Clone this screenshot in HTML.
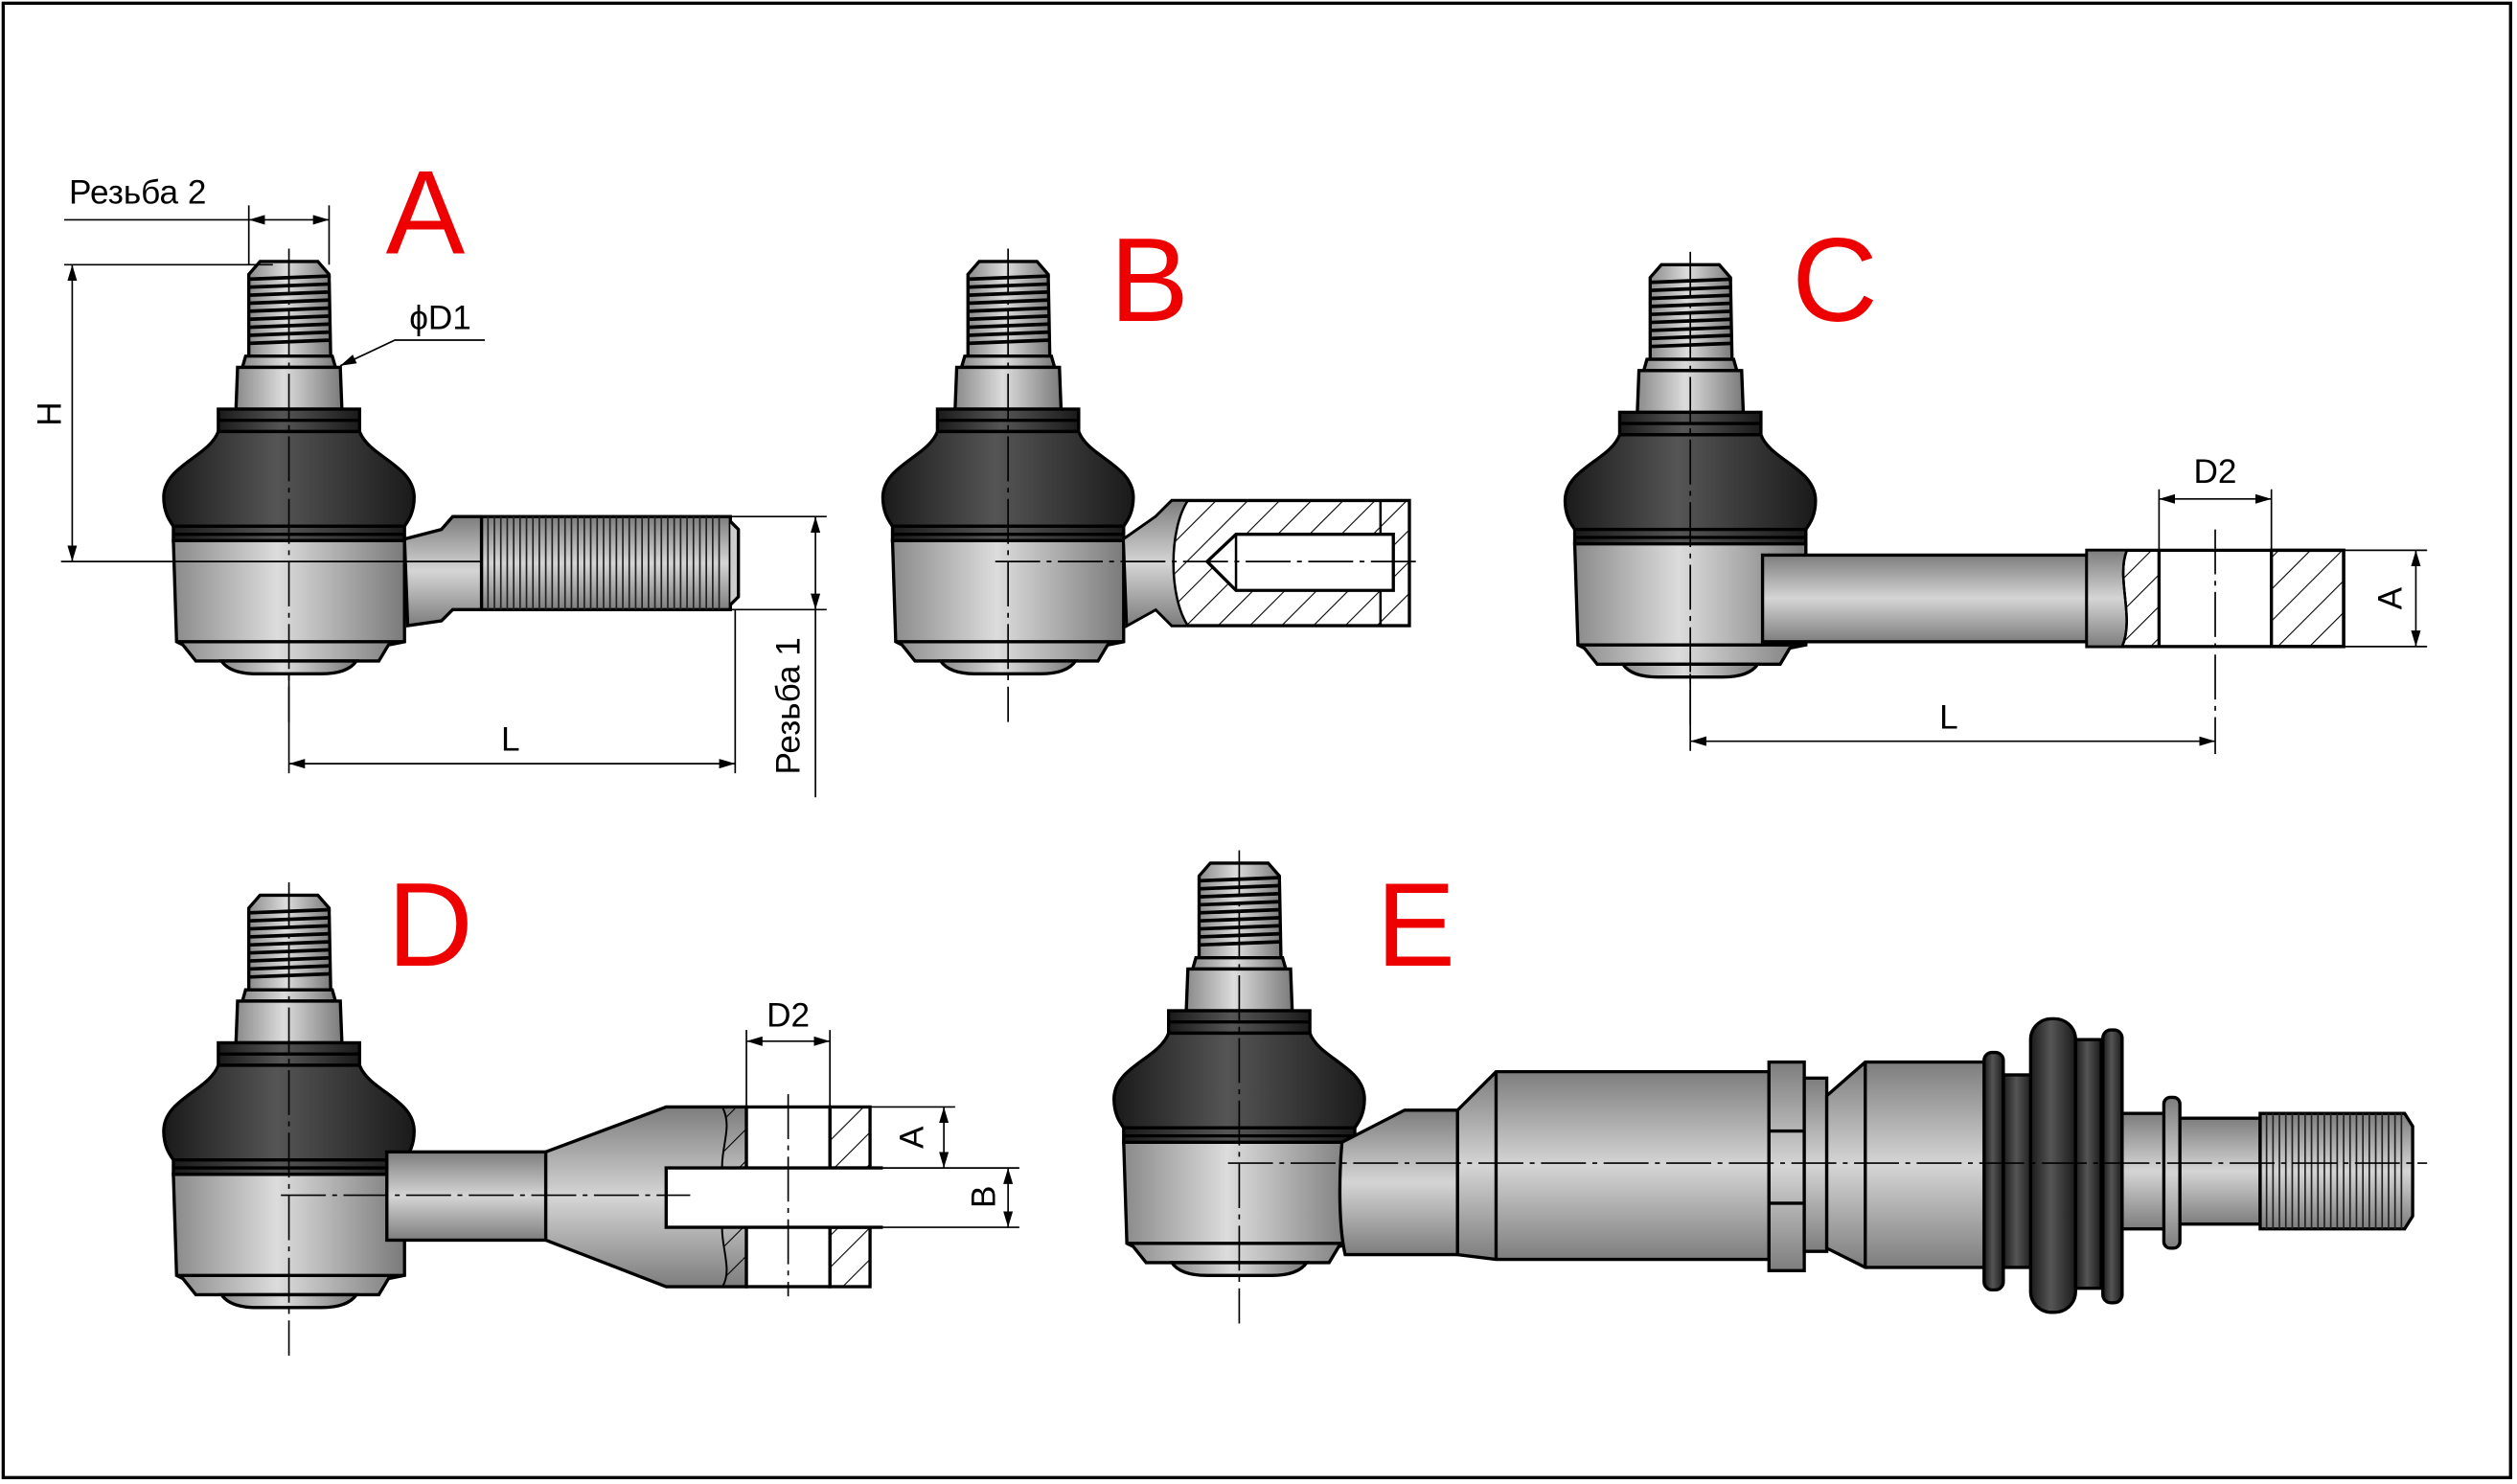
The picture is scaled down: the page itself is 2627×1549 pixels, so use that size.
<!DOCTYPE html>
<html><head><meta charset="utf-8"><style>
html,body{margin:0;padding:0;background:#fff}
svg{display:block}
text{font-family:"Liberation Sans",sans-serif}
</style></head><body>
<svg width="2627" height="1549" viewBox="0 0 1568 925" preserveAspectRatio="none" xmlns="http://www.w3.org/2000/svg">
<defs>
<linearGradient id="gh" x1="0" x2="1" y1="0" y2="0"><stop offset="0" stop-color="#8a8a8a"/><stop offset="0.45" stop-color="#dcdcdc"/><stop offset="1" stop-color="#7a7a7a"/></linearGradient>
<linearGradient id="gv" x1="0" x2="0" y1="0" y2="1"><stop offset="0" stop-color="#7d7d7d"/><stop offset="0.5" stop-color="#d5d5d5"/><stop offset="1" stop-color="#7d7d7d"/></linearGradient>
<linearGradient id="gd" x1="0" x2="1" y1="0" y2="0"><stop offset="0" stop-color="#1a1a1a"/><stop offset="0.45" stop-color="#555"/><stop offset="1" stop-color="#1a1a1a"/></linearGradient>
<pattern id="hatch" width="14" height="14" patternUnits="userSpaceOnUse" patternTransform="rotate(45)"><line x1="0" y1="0" x2="0" y2="14" stroke="#000" stroke-width="1.3"/></pattern>
<marker id="ar" viewBox="0 0 10 6" refX="10" refY="3" markerWidth="10" markerHeight="6" orient="auto-start-reverse" markerUnits="userSpaceOnUse"><path d="M0,0L10,3L0,6z" fill="#000"/></marker>
<g id="joint" stroke="#000" stroke-width="2">
  <path d="M-18,-187 L18,-187 L25,-179 L26,-128 L-25,-128 L-25,-179 Z" fill="url(#gh)"/>
  <g stroke-width="2.2">
    <line x1="-25" y1="-176" x2="26" y2="-178"/><line x1="-25" y1="-171" x2="26" y2="-173"/><line x1="-25" y1="-166" x2="26" y2="-168"/>
    <line x1="-25" y1="-161" x2="26" y2="-163"/><line x1="-25" y1="-156" x2="26" y2="-158"/><line x1="-25" y1="-151" x2="26" y2="-153"/><line x1="-25" y1="-146" x2="26" y2="-148"/><line x1="-25" y1="-141" x2="26" y2="-143"/><line x1="-25" y1="-136" x2="26" y2="-138"/>
  </g>
  <path d="M-27,-128 L27,-128 L29,-121 L-29,-121 Z" fill="url(#gh)"/>
  <path d="M-32,-121 L32,-121 L33,-95 L-33,-95 Z" fill="url(#gh)"/>
  <rect x="-44" y="-95" width="88" height="14" fill="url(#gd)"/>
  <line x1="-44" y1="-88" x2="44" y2="-88"/>
  <path d="M-44,-81 C-50,-65 -78,-60 -78,-40 C-78,-30 -74,-25 -72,-22 L72,-22 C74,-25 78,-30 78,-40 C78,-60 50,-65 44,-81 Z" fill="url(#gd)"/>
  <rect x="-72" y="-22" width="144" height="9" fill="url(#gd)"/>
  <line x1="-72" y1="-17" x2="72" y2="-17"/>
  <path d="M-72,-13 L72,-13 L72,50 L62,52 L56,62 L-58,62 L-66,52 L-70,50 Z" fill="url(#gh)"/>
  <line x1="-70" y1="50" x2="72" y2="50"/>
  <path d="M-42,62 L42,62 C38,68 30,70 20,70 L-20,70 C-30,70 -38,68 -42,62 Z" fill="url(#gh)"/>
  <line x1="0" y1="-195" x2="0" y2="100" stroke-width="1" stroke-dasharray="28,4,3,4"/>
</g>
</defs>
<rect x="2" y="2" width="1562" height="919" fill="#fff" stroke="#000" stroke-width="2"/>

<!-- A -->
<use href="#joint" x="180" y="350"/>
<path d="M252,336 L275,330 L282,322 L300,322 L300,380 L282,380 L275,387 L254,390 Z" fill="url(#gv)" stroke="#000" stroke-width="2"/>
<rect x="300" y="322" width="155" height="58" fill="url(#gv)" stroke="#000" stroke-width="2"/>
<g stroke="#222" stroke-width="1">
<path d="M304,322V380M308,322V380M312,322V380M316,322V380M320,322V380M324,322V380M328,322V380M332,322V380M336,322V380M340,322V380M344,322V380M348,322V380M352,322V380M356,322V380M360,322V380M364,322V380M368,322V380M372,322V380M376,322V380M380,322V380M384,322V380M388,322V380M392,322V380M396,322V380M400,322V380M404,322V380M408,322V380M412,322V380M416,322V380M420,322V380M424,322V380M428,322V380M432,322V380M436,322V380M440,322V380M444,322V380M448,322V380"/></g>
<path d="M455,325 L460,330 L460,372 L455,377" fill="#ccc" stroke="#000" stroke-width="2"/>
<g stroke="#000" stroke-width="1" fill="none">
<line x1="38" y1="350" x2="300" y2="350"/>
<line x1="40" y1="165" x2="170" y2="165"/>
<line x1="45" y1="165" x2="45" y2="350" marker-start="url(#ar)" marker-end="url(#ar)"/>
<line x1="40" y1="137" x2="155" y2="137"/>
<line x1="155" y1="128" x2="155" y2="165"/><line x1="205" y1="128" x2="205" y2="165"/>
<line x1="155" y1="137" x2="205" y2="137" marker-start="url(#ar)" marker-end="url(#ar)"/>
<path d="M302,212 L246,212 L212,228" marker-end="url(#ar)"/>
<line x1="180" y1="420" x2="180" y2="482"/>
<line x1="180" y1="476" x2="458" y2="476" marker-start="url(#ar)" marker-end="url(#ar)"/>
<line x1="458" y1="380" x2="458" y2="482"/>
<line x1="455" y1="322" x2="515" y2="322"/><line x1="455" y1="380" x2="515" y2="380"/>
<line x1="508" y1="322" x2="508" y2="380" marker-start="url(#ar)" marker-end="url(#ar)"/>
<line x1="508" y1="380" x2="508" y2="497"/>
</g>
<text x="43" y="127" font-size="21">Резьба 2</text>
<text x="255" y="205" font-size="21">ϕD1</text>
<text x="38" y="258" font-size="21" transform="rotate(-90 38 258)" text-anchor="middle">H</text>
<text x="318" y="468" font-size="21" text-anchor="middle">L</text>
<text x="498" y="440" font-size="21" transform="rotate(-90 498 440)" text-anchor="middle">Резьба 1</text>
<text x="265" y="158" font-size="74" fill="#e00" text-anchor="middle">A</text>

<!-- B -->
<use href="#joint" x="628" y="350"/>
<path d="M700,336 L720,322 L730,312 L878,312 L878,390 L730,390 L720,380 L702,390 Z" fill="url(#hatch)" stroke="#000" stroke-width="2"/>
<path d="M700,336 L720,322 L730,312 L740,312 C728,330 728,372 740,390 L730,390 L720,380 L702,390 Z" fill="url(#gv)" stroke="#000" stroke-width="1.5"/>
<path d="M770,333 L868,333 L868,368 L770,368 L752,350 Z" fill="#fff" stroke="#000" stroke-width="2"/>
<line x1="770" y1="333" x2="770" y2="368" stroke="#000" stroke-width="1.5"/>
<line x1="860" y1="312" x2="860" y2="333" stroke="#000" stroke-width="1.5"/><line x1="860" y1="368" x2="860" y2="390" stroke="#000" stroke-width="1.5"/>
<line x1="620" y1="350" x2="885" y2="350" stroke="#000" stroke-width="1" stroke-dasharray="28,4,3,4"/>
<text x="716" y="200" font-size="74" fill="#e00" text-anchor="middle">B</text>

<!-- C -->
<use href="#joint" x="1053" y="352"/>
<rect x="1098" y="346" width="202" height="54" fill="url(#gv)" stroke="#000" stroke-width="2"/>
<rect x="1300" y="343" width="160" height="60" fill="#fff" stroke="#000" stroke-width="2"/>
<path d="M1300,343 L1325,343 C1318,360 1330,385 1322,403 L1300,403 Z" fill="url(#gv)" stroke="#000" stroke-width="1.5"/>
<path d="M1325,343 L1345,343 L1345,403 L1322,403 C1330,385 1318,360 1325,343 Z" fill="url(#hatch)" stroke="#000" stroke-width="1.5"/>
<rect x="1415" y="343" width="45" height="60" fill="url(#hatch)" stroke="#000" stroke-width="2"/>
<line x1="1345" y1="343" x2="1345" y2="403" stroke="#000" stroke-width="2"/>
<g stroke="#000" stroke-width="1" fill="none">
<line x1="1380" y1="330" x2="1380" y2="470" stroke-dasharray="28,4,3,4"/>
<line x1="1345" y1="305" x2="1345" y2="343"/><line x1="1415" y1="305" x2="1415" y2="343"/>
<line x1="1345" y1="311" x2="1415" y2="311" marker-start="url(#ar)" marker-end="url(#ar)"/>
<line x1="1460" y1="343" x2="1512" y2="343"/><line x1="1460" y1="403" x2="1512" y2="403"/>
<line x1="1505" y1="343" x2="1505" y2="403" marker-start="url(#ar)" marker-end="url(#ar)"/>
<line x1="1053" y1="420" x2="1053" y2="468"/>
<line x1="1053" y1="462" x2="1380" y2="462" marker-start="url(#ar)" marker-end="url(#ar)"/>
</g>
<text x="1380" y="301" font-size="21" text-anchor="middle">D2</text>
<text x="1496" y="373" font-size="21" transform="rotate(-90 1496 373)" text-anchor="middle">A</text>
<text x="1214" y="454" font-size="21" text-anchor="middle">L</text>
<text x="1143" y="200" font-size="74" fill="#e00" text-anchor="middle">C</text>

<!-- D -->
<use href="#joint" x="180" y="745"/>
<rect x="241" y="718" width="99" height="55" fill="url(#gv)" stroke="#000" stroke-width="2"/>
<path d="M340,718 L415,690 L465,690 L465,802 L415,802 L340,773 Z" fill="url(#gv)" stroke="#000" stroke-width="2"/>
<path d="M450,690 L465,690 L465,802 L450,802 C458,790 445,770 452,755 L452,740 C445,720 458,705 450,690Z" fill="url(#hatch)" stroke="#000" stroke-width="1.2"/>
<rect x="465" y="690" width="52" height="112" fill="#fff" stroke="#000" stroke-width="2"/>
<rect x="517" y="690" width="25" height="38" fill="url(#hatch)" stroke="#000" stroke-width="2"/>
<rect x="517" y="765" width="25" height="37" fill="url(#hatch)" stroke="#000" stroke-width="2"/>
<rect x="415" y="728" width="135" height="37" fill="#fff" stroke="none"/>
<path d="M550,728 L415,728 L415,765 L550,765" fill="none" stroke="#000" stroke-width="2"/>
<g stroke="#000" stroke-width="1" fill="none">
<line x1="491" y1="682" x2="491" y2="808" stroke-dasharray="28,4,3,4"/>
<line x1="175" y1="745" x2="430" y2="745" stroke-dasharray="28,4,3,4"/>
<line x1="465" y1="642" x2="465" y2="690"/><line x1="517" y1="642" x2="517" y2="690"/>
<line x1="465" y1="649" x2="517" y2="649" marker-start="url(#ar)" marker-end="url(#ar)"/>
<line x1="542" y1="690" x2="595" y2="690"/><line x1="550" y1="728" x2="635" y2="728"/><line x1="550" y1="765" x2="635" y2="765"/>
<line x1="588" y1="690" x2="588" y2="728" marker-start="url(#ar)" marker-end="url(#ar)"/>
<line x1="628" y1="728" x2="628" y2="765" marker-start="url(#ar)" marker-end="url(#ar)"/>
</g>
<text x="491" y="640" font-size="21" text-anchor="middle">D2</text>
<text x="575" y="709" font-size="21" transform="rotate(-90 575 709)" text-anchor="middle">A</text>
<text x="620" y="746" font-size="21" transform="rotate(-90 620 746)" text-anchor="middle">B</text>
<text x="268" y="602" font-size="74" fill="#e00" text-anchor="middle">D</text>

<!-- E -->
<use href="#joint" x="772" y="725"/>
<g stroke="#000" stroke-width="2">
<path d="M836,712 L875,692 L908,692 L908,782 L838,782 C834,765 834,735 836,712Z" fill="url(#gv)"/>
<path d="M908,692 L932,668 L1102,668 L1102,785 L932,785 L908,782 Z" fill="url(#gv)"/>
<line x1="932" y1="668" x2="932" y2="785"/>
<rect x="1102" y="662" width="22" height="130" fill="url(#gv)"/>
<line x1="1102" y1="705" x2="1124" y2="705"/><line x1="1102" y1="750" x2="1124" y2="750"/>
<rect x="1124" y="672" width="14" height="108" fill="url(#gv)"/>
<path d="M1138,683 L1162,662 L1240,662 L1240,790 L1162,790 L1138,778Z" fill="url(#gv)"/>
<line x1="1162" y1="662" x2="1162" y2="790"/>
<rect x="1236" y="656" width="12" height="148" rx="5" fill="url(#gd)"/>
<rect x="1248" y="670" width="18" height="120" fill="url(#gd)"/>
<rect x="1265" y="635" width="28" height="183" rx="13" fill="url(#gd)"/>
<rect x="1293" y="648" width="16" height="155" fill="url(#gd)"/>
<rect x="1310" y="642" width="12" height="170" rx="5" fill="url(#gd)"/>
<rect x="1322" y="694" width="28" height="72" fill="url(#gv)"/>
<rect x="1348" y="684" width="10" height="94" rx="4" fill="url(#gv)"/>
<rect x="1358" y="697" width="50" height="66" fill="url(#gv)"/>
<path d="M1408,694 L1498,694 L1503,702 L1503,758 L1498,766 L1408,766Z" fill="url(#gv)"/>
</g>
<path d="M1412,694V766M1416,694V766M1420,694V766M1424,694V766M1428,694V766M1432,694V766M1436,694V766M1440,694V766M1444,694V766M1448,694V766M1452,694V766M1456,694V766M1460,694V766M1464,694V766M1468,694V766M1472,694V766M1476,694V766M1480,694V766M1484,694V766M1488,694V766M1492,694V766M1496,694V766" stroke="#222" stroke-width="1"/>
<line x1="765" y1="725" x2="1512" y2="725" stroke="#000" stroke-width="1" stroke-dasharray="28,4,3,4"/>
<text x="882" y="602" font-size="74" fill="#e00" text-anchor="middle">E</text>
</svg>
</body></html>
